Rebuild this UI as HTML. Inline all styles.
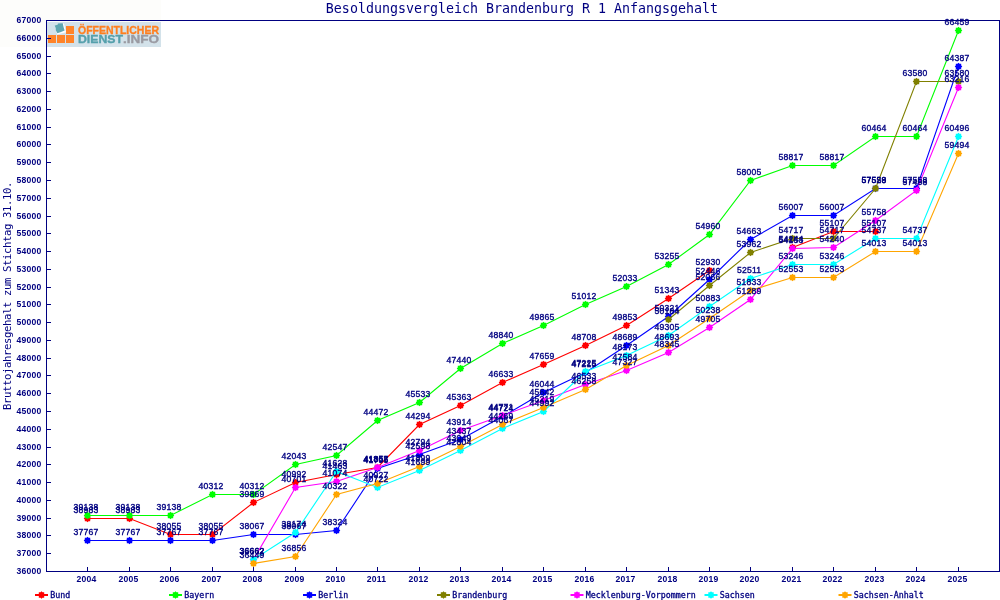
<!DOCTYPE html>
<html lang="de"><head><meta charset="utf-8"><title>Besoldungsvergleich Brandenburg R 1 Anfangsgehalt</title>
<style>
html,body{margin:0;padding:0;background:#fff;}
body{width:1000px;height:600px;overflow:hidden;}
svg{display:block;}
text{font-family:"DejaVu Sans Mono","Liberation Mono",monospace;fill:#000080;}
.t1{font-family:"Liberation Sans",sans-serif;font-size:8.6px;letter-spacing:0.22px;stroke:#000080;stroke-width:0.35px;}
.ax{font-family:"Liberation Sans",sans-serif;font-size:8.6px;font-weight:bold;letter-spacing:0.22px;}
.lg{font-size:8.3px;stroke:#000080;stroke-width:0.3px;}
.t2{font-size:10.6px;letter-spacing:-0.38px;}
.t4{font-size:13.3px;}
.logo{font-family:"Liberation Sans",sans-serif;font-weight:bold;font-size:11.5px;stroke-width:0.35px;}
</style></head><body>
<svg width="1000" height="600" viewBox="0 0 1000 600">
<rect x="0" y="0" width="1000" height="600" fill="#ffffff"/>
<rect x="0" y="0" width="161" height="47" fill="#fdfdfb"/>
<g id="logo">
<rect x="47" y="22" width="114" height="25" fill="#d3e2ea"/>
<rect x="48" y="35" width="8" height="8" fill="#ff8429"/>
<rect x="57" y="35" width="8" height="8" fill="#ff8429"/>
<rect x="66" y="35" width="8" height="8" fill="#ff8429"/>
<rect x="66" y="26" width="8" height="8" fill="#ff8429"/>
<rect x="-4.6" y="-4.6" width="9.2" height="9.2" transform="translate(60.6,28.9) rotate(-13)" fill="#ffffff"/>
<path d="M54.7 25.4 L57.6 24.7 L58.0 23.6 L62.7 23.2 L63.6 27.2 L64.6 30.6 L61.0 32.0 L57.4 33.3 L55.9 30.6 L55.7 28.2 Z" fill="#5fa7b1"/>
<text class="logo" x="78" y="34" textLength="81" lengthAdjust="spacingAndGlyphs" style="fill:#ff7f1f;stroke:#ff7f1f">ÖFFENTLICHER</text>
<text class="logo" x="78" y="43" textLength="45" lengthAdjust="spacingAndGlyphs" style="fill:#55a0ac;stroke:#55a0ac">DIENST</text>
<text class="logo" x="123" y="43" textLength="36" lengthAdjust="spacingAndGlyphs" style="fill:#9a9aa2;stroke:#9a9aa2">.INFO</text>
</g>
<text class="t4" x="522" y="13" text-anchor="middle">Besoldungsvergleich Brandenburg R 1 Anfangsgehalt</text>
<text class="t2" transform="translate(11,296) rotate(-90)" text-anchor="middle">Bruttojahresgehalt zum Stichtag 31.10.</text>
<g shape-rendering="crispEdges" stroke="#000080" stroke-width="1" fill="none">
<rect x="46.5" y="20.5" width="953" height="551"/>
<path d="M47 571.5H51M47 553.5H51M47 535.5H51M47 518.5H51M47 500.5H51M47 482.5H51M47 464.5H51M47 447.5H51M47 429.5H51M47 411.5H51M47 393.5H51M47 375.5H51M47 358.5H51M47 340.5H51M47 322.5H51M47 304.5H51M47 287.5H51M47 269.5H51M47 251.5H51M47 233.5H51M47 216.5H51M47 198.5H51M47 180.5H51M47 162.5H51M47 144.5H51M47 127.5H51M47 109.5H51M47 91.5H51M47 73.5H51M47 56.5H51M47 38.5H51M47 20.5H51M87.5 571V567M129.5 571V567M170.5 571V567M212.5 571V567M253.5 571V567M295.5 571V567M336.5 571V567M377.5 571V567M419.5 571V567M460.5 571V567M502.5 571V567M543.5 571V567M585.5 571V567M626.5 571V567M668.5 571V567M709.5 571V567M750.5 571V567M792.5 571V567M833.5 571V567M875.5 571V567M916.5 571V567M958.5 571V567"/>
</g>
<g class="ax" text-anchor="end">
<text class="ax" x="41.4" y="573.7">36000</text>
<text class="ax" x="41.4" y="555.7">37000</text>
<text class="ax" x="41.4" y="537.7">38000</text>
<text class="ax" x="41.4" y="520.7">39000</text>
<text class="ax" x="41.4" y="502.7">40000</text>
<text class="ax" x="41.4" y="484.7">41000</text>
<text class="ax" x="41.4" y="466.7">42000</text>
<text class="ax" x="41.4" y="449.7">43000</text>
<text class="ax" x="41.4" y="431.7">44000</text>
<text class="ax" x="41.4" y="413.7">45000</text>
<text class="ax" x="41.4" y="395.7">46000</text>
<text class="ax" x="41.4" y="377.7">47000</text>
<text class="ax" x="41.4" y="360.7">48000</text>
<text class="ax" x="41.4" y="342.7">49000</text>
<text class="ax" x="41.4" y="324.7">50000</text>
<text class="ax" x="41.4" y="306.7">51000</text>
<text class="ax" x="41.4" y="289.7">52000</text>
<text class="ax" x="41.4" y="271.7">53000</text>
<text class="ax" x="41.4" y="253.7">54000</text>
<text class="ax" x="41.4" y="235.7">55000</text>
<text class="ax" x="41.4" y="218.7">56000</text>
<text class="ax" x="41.4" y="200.7">57000</text>
<text class="ax" x="41.4" y="182.7">58000</text>
<text class="ax" x="41.4" y="164.7">59000</text>
<text class="ax" x="41.4" y="146.7">60000</text>
<text class="ax" x="41.4" y="129.7">61000</text>
<text class="ax" x="41.4" y="111.7">62000</text>
<text class="ax" x="41.4" y="93.7">63000</text>
<text class="ax" x="41.4" y="75.7">64000</text>
<text class="ax" x="41.4" y="58.7">65000</text>
<text class="ax" x="41.4" y="40.7">66000</text>
<text class="ax" x="41.4" y="22.7">67000</text>
</g>
<g class="ax" text-anchor="middle">
<text class="ax" x="86.5" y="582">2004</text>
<text class="ax" x="128.5" y="582">2005</text>
<text class="ax" x="169.5" y="582">2006</text>
<text class="ax" x="211.5" y="582">2007</text>
<text class="ax" x="252.5" y="582">2008</text>
<text class="ax" x="294.5" y="582">2009</text>
<text class="ax" x="335.5" y="582">2010</text>
<text class="ax" x="376.5" y="582">2011</text>
<text class="ax" x="418.5" y="582">2012</text>
<text class="ax" x="459.5" y="582">2013</text>
<text class="ax" x="501.5" y="582">2014</text>
<text class="ax" x="542.5" y="582">2015</text>
<text class="ax" x="584.5" y="582">2016</text>
<text class="ax" x="625.5" y="582">2017</text>
<text class="ax" x="667.5" y="582">2018</text>
<text class="ax" x="708.5" y="582">2019</text>
<text class="ax" x="749.5" y="582">2020</text>
<text class="ax" x="791.5" y="582">2021</text>
<text class="ax" x="832.5" y="582">2022</text>
<text class="ax" x="874.5" y="582">2023</text>
<text class="ax" x="915.5" y="582">2024</text>
<text class="ax" x="957.5" y="582">2025</text>
</g>
<g id="s-Bund">
<polyline points="87.5,518.5 129.5,518.5 170.5,534.5 212.5,534.5 253.5,502.5 295.5,482.5 336.5,474.5 377.5,467.5 419.5,424.5 460.5,405.5 502.5,382.5 543.5,364.5 585.5,345.5 626.5,325.5 668.5,298.5 709.5,270.5" fill="none" stroke="#ff0000" stroke-width="1.1"/>
<polyline points="792.5,247.5 833.5,231.5 875.5,231.5" fill="none" stroke="#ff0000" stroke-width="1.1"/>
<path d="M84.8 515.8h5.4v5.4h-5.4z M87.5 514.7l3.8 3.8l-3.8 3.8l-3.8 -3.8z" fill="#ff0000"/>
<path d="M126.8 515.8h5.4v5.4h-5.4z M129.5 514.7l3.8 3.8l-3.8 3.8l-3.8 -3.8z" fill="#ff0000"/>
<path d="M167.8 531.8h5.4v5.4h-5.4z M170.5 530.7l3.8 3.8l-3.8 3.8l-3.8 -3.8z" fill="#ff0000"/>
<path d="M209.8 531.8h5.4v5.4h-5.4z M212.5 530.7l3.8 3.8l-3.8 3.8l-3.8 -3.8z" fill="#ff0000"/>
<path d="M250.8 499.8h5.4v5.4h-5.4z M253.5 498.7l3.8 3.8l-3.8 3.8l-3.8 -3.8z" fill="#ff0000"/>
<path d="M292.8 479.8h5.4v5.4h-5.4z M295.5 478.7l3.8 3.8l-3.8 3.8l-3.8 -3.8z" fill="#ff0000"/>
<path d="M333.8 471.8h5.4v5.4h-5.4z M336.5 470.7l3.8 3.8l-3.8 3.8l-3.8 -3.8z" fill="#ff0000"/>
<path d="M374.8 464.8h5.4v5.4h-5.4z M377.5 463.7l3.8 3.8l-3.8 3.8l-3.8 -3.8z" fill="#ff0000"/>
<path d="M416.8 421.8h5.4v5.4h-5.4z M419.5 420.7l3.8 3.8l-3.8 3.8l-3.8 -3.8z" fill="#ff0000"/>
<path d="M457.8 402.8h5.4v5.4h-5.4z M460.5 401.7l3.8 3.8l-3.8 3.8l-3.8 -3.8z" fill="#ff0000"/>
<path d="M499.8 379.8h5.4v5.4h-5.4z M502.5 378.7l3.8 3.8l-3.8 3.8l-3.8 -3.8z" fill="#ff0000"/>
<path d="M540.8 361.8h5.4v5.4h-5.4z M543.5 360.7l3.8 3.8l-3.8 3.8l-3.8 -3.8z" fill="#ff0000"/>
<path d="M582.8 342.8h5.4v5.4h-5.4z M585.5 341.7l3.8 3.8l-3.8 3.8l-3.8 -3.8z" fill="#ff0000"/>
<path d="M623.8 322.8h5.4v5.4h-5.4z M626.5 321.7l3.8 3.8l-3.8 3.8l-3.8 -3.8z" fill="#ff0000"/>
<path d="M665.8 295.8h5.4v5.4h-5.4z M668.5 294.7l3.8 3.8l-3.8 3.8l-3.8 -3.8z" fill="#ff0000"/>
<path d="M706.8 267.8h5.4v5.4h-5.4z M709.5 266.7l3.8 3.8l-3.8 3.8l-3.8 -3.8z" fill="#ff0000"/>
<path d="M789.8 244.8h5.4v5.4h-5.4z M792.5 243.7l3.8 3.8l-3.8 3.8l-3.8 -3.8z" fill="#ff0000"/>
<path d="M830.8 228.8h5.4v5.4h-5.4z M833.5 227.7l3.8 3.8l-3.8 3.8l-3.8 -3.8z" fill="#ff0000"/>
<path d="M872.8 228.8h5.4v5.4h-5.4z M875.5 227.7l3.8 3.8l-3.8 3.8l-3.8 -3.8z" fill="#ff0000"/>
</g>
<g id="s-Bayern">
<polyline points="87.5,515.5 129.5,515.5 170.5,515.5 212.5,494.5 253.5,494.5 295.5,464.5 336.5,455.5 377.5,420.5 419.5,402.5 460.5,368.5 502.5,343.5 543.5,325.5 585.5,304.5 626.5,286.5 668.5,264.5 709.5,234.5 750.5,180.5 792.5,165.5 833.5,165.5 875.5,136.5 916.5,136.5 958.5,30.5" fill="none" stroke="#00ff00" stroke-width="1.1"/>
<path d="M84.8 512.8h5.4v5.4h-5.4z M87.5 511.7l3.8 3.8l-3.8 3.8l-3.8 -3.8z" fill="#00ff00"/>
<path d="M126.8 512.8h5.4v5.4h-5.4z M129.5 511.7l3.8 3.8l-3.8 3.8l-3.8 -3.8z" fill="#00ff00"/>
<path d="M167.8 512.8h5.4v5.4h-5.4z M170.5 511.7l3.8 3.8l-3.8 3.8l-3.8 -3.8z" fill="#00ff00"/>
<path d="M209.8 491.8h5.4v5.4h-5.4z M212.5 490.7l3.8 3.8l-3.8 3.8l-3.8 -3.8z" fill="#00ff00"/>
<path d="M250.8 491.8h5.4v5.4h-5.4z M253.5 490.7l3.8 3.8l-3.8 3.8l-3.8 -3.8z" fill="#00ff00"/>
<path d="M292.8 461.8h5.4v5.4h-5.4z M295.5 460.7l3.8 3.8l-3.8 3.8l-3.8 -3.8z" fill="#00ff00"/>
<path d="M333.8 452.8h5.4v5.4h-5.4z M336.5 451.7l3.8 3.8l-3.8 3.8l-3.8 -3.8z" fill="#00ff00"/>
<path d="M374.8 417.8h5.4v5.4h-5.4z M377.5 416.7l3.8 3.8l-3.8 3.8l-3.8 -3.8z" fill="#00ff00"/>
<path d="M416.8 399.8h5.4v5.4h-5.4z M419.5 398.7l3.8 3.8l-3.8 3.8l-3.8 -3.8z" fill="#00ff00"/>
<path d="M457.8 365.8h5.4v5.4h-5.4z M460.5 364.7l3.8 3.8l-3.8 3.8l-3.8 -3.8z" fill="#00ff00"/>
<path d="M499.8 340.8h5.4v5.4h-5.4z M502.5 339.7l3.8 3.8l-3.8 3.8l-3.8 -3.8z" fill="#00ff00"/>
<path d="M540.8 322.8h5.4v5.4h-5.4z M543.5 321.7l3.8 3.8l-3.8 3.8l-3.8 -3.8z" fill="#00ff00"/>
<path d="M582.8 301.8h5.4v5.4h-5.4z M585.5 300.7l3.8 3.8l-3.8 3.8l-3.8 -3.8z" fill="#00ff00"/>
<path d="M623.8 283.8h5.4v5.4h-5.4z M626.5 282.7l3.8 3.8l-3.8 3.8l-3.8 -3.8z" fill="#00ff00"/>
<path d="M665.8 261.8h5.4v5.4h-5.4z M668.5 260.7l3.8 3.8l-3.8 3.8l-3.8 -3.8z" fill="#00ff00"/>
<path d="M706.8 231.8h5.4v5.4h-5.4z M709.5 230.7l3.8 3.8l-3.8 3.8l-3.8 -3.8z" fill="#00ff00"/>
<path d="M747.8 177.8h5.4v5.4h-5.4z M750.5 176.7l3.8 3.8l-3.8 3.8l-3.8 -3.8z" fill="#00ff00"/>
<path d="M789.8 162.8h5.4v5.4h-5.4z M792.5 161.7l3.8 3.8l-3.8 3.8l-3.8 -3.8z" fill="#00ff00"/>
<path d="M830.8 162.8h5.4v5.4h-5.4z M833.5 161.7l3.8 3.8l-3.8 3.8l-3.8 -3.8z" fill="#00ff00"/>
<path d="M872.8 133.8h5.4v5.4h-5.4z M875.5 132.7l3.8 3.8l-3.8 3.8l-3.8 -3.8z" fill="#00ff00"/>
<path d="M913.8 133.8h5.4v5.4h-5.4z M916.5 132.7l3.8 3.8l-3.8 3.8l-3.8 -3.8z" fill="#00ff00"/>
<path d="M955.8 27.8h5.4v5.4h-5.4z M958.5 26.7l3.8 3.8l-3.8 3.8l-3.8 -3.8z" fill="#00ff00"/>
</g>
<g id="s-Berlin">
<polyline points="87.5,540.5 129.5,540.5 170.5,540.5 212.5,540.5 253.5,534.5 295.5,534.5 336.5,530.5 377.5,468.5 419.5,454.5 460.5,439.5 502.5,416.5 543.5,392.5 585.5,372.5 626.5,345.5 668.5,316.5 709.5,279.5 750.5,239.5 792.5,215.5 833.5,215.5 875.5,188.5 916.5,188.5 958.5,66.5" fill="none" stroke="#0000ff" stroke-width="1.1"/>
<path d="M84.8 537.8h5.4v5.4h-5.4z M87.5 536.7l3.8 3.8l-3.8 3.8l-3.8 -3.8z" fill="#0000ff"/>
<path d="M126.8 537.8h5.4v5.4h-5.4z M129.5 536.7l3.8 3.8l-3.8 3.8l-3.8 -3.8z" fill="#0000ff"/>
<path d="M167.8 537.8h5.4v5.4h-5.4z M170.5 536.7l3.8 3.8l-3.8 3.8l-3.8 -3.8z" fill="#0000ff"/>
<path d="M209.8 537.8h5.4v5.4h-5.4z M212.5 536.7l3.8 3.8l-3.8 3.8l-3.8 -3.8z" fill="#0000ff"/>
<path d="M250.8 531.8h5.4v5.4h-5.4z M253.5 530.7l3.8 3.8l-3.8 3.8l-3.8 -3.8z" fill="#0000ff"/>
<path d="M292.8 531.8h5.4v5.4h-5.4z M295.5 530.7l3.8 3.8l-3.8 3.8l-3.8 -3.8z" fill="#0000ff"/>
<path d="M333.8 527.8h5.4v5.4h-5.4z M336.5 526.7l3.8 3.8l-3.8 3.8l-3.8 -3.8z" fill="#0000ff"/>
<path d="M374.8 465.8h5.4v5.4h-5.4z M377.5 464.7l3.8 3.8l-3.8 3.8l-3.8 -3.8z" fill="#0000ff"/>
<path d="M416.8 451.8h5.4v5.4h-5.4z M419.5 450.7l3.8 3.8l-3.8 3.8l-3.8 -3.8z" fill="#0000ff"/>
<path d="M457.8 436.8h5.4v5.4h-5.4z M460.5 435.7l3.8 3.8l-3.8 3.8l-3.8 -3.8z" fill="#0000ff"/>
<path d="M499.8 413.8h5.4v5.4h-5.4z M502.5 412.7l3.8 3.8l-3.8 3.8l-3.8 -3.8z" fill="#0000ff"/>
<path d="M540.8 389.8h5.4v5.4h-5.4z M543.5 388.7l3.8 3.8l-3.8 3.8l-3.8 -3.8z" fill="#0000ff"/>
<path d="M582.8 369.8h5.4v5.4h-5.4z M585.5 368.7l3.8 3.8l-3.8 3.8l-3.8 -3.8z" fill="#0000ff"/>
<path d="M623.8 342.8h5.4v5.4h-5.4z M626.5 341.7l3.8 3.8l-3.8 3.8l-3.8 -3.8z" fill="#0000ff"/>
<path d="M665.8 313.8h5.4v5.4h-5.4z M668.5 312.7l3.8 3.8l-3.8 3.8l-3.8 -3.8z" fill="#0000ff"/>
<path d="M706.8 276.8h5.4v5.4h-5.4z M709.5 275.7l3.8 3.8l-3.8 3.8l-3.8 -3.8z" fill="#0000ff"/>
<path d="M747.8 236.8h5.4v5.4h-5.4z M750.5 235.7l3.8 3.8l-3.8 3.8l-3.8 -3.8z" fill="#0000ff"/>
<path d="M789.8 212.8h5.4v5.4h-5.4z M792.5 211.7l3.8 3.8l-3.8 3.8l-3.8 -3.8z" fill="#0000ff"/>
<path d="M830.8 212.8h5.4v5.4h-5.4z M833.5 211.7l3.8 3.8l-3.8 3.8l-3.8 -3.8z" fill="#0000ff"/>
<path d="M872.8 185.8h5.4v5.4h-5.4z M875.5 184.7l3.8 3.8l-3.8 3.8l-3.8 -3.8z" fill="#0000ff"/>
<path d="M913.8 185.8h5.4v5.4h-5.4z M916.5 184.7l3.8 3.8l-3.8 3.8l-3.8 -3.8z" fill="#0000ff"/>
<path d="M955.8 63.8h5.4v5.4h-5.4z M958.5 62.7l3.8 3.8l-3.8 3.8l-3.8 -3.8z" fill="#0000ff"/>
</g>
<g id="s-Brandenburg">
<polyline points="668.5,319.5 709.5,285.5 750.5,252.5 792.5,238.5 833.5,238.5 875.5,188.5 916.5,81.5 958.5,81.5" fill="none" stroke="#808000" stroke-width="1.1"/>
<path d="M665.8 316.8h5.4v5.4h-5.4z M668.5 315.7l3.8 3.8l-3.8 3.8l-3.8 -3.8z" fill="#808000"/>
<path d="M706.8 282.8h5.4v5.4h-5.4z M709.5 281.7l3.8 3.8l-3.8 3.8l-3.8 -3.8z" fill="#808000"/>
<path d="M747.8 249.8h5.4v5.4h-5.4z M750.5 248.7l3.8 3.8l-3.8 3.8l-3.8 -3.8z" fill="#808000"/>
<path d="M789.8 235.8h5.4v5.4h-5.4z M792.5 234.7l3.8 3.8l-3.8 3.8l-3.8 -3.8z" fill="#808000"/>
<path d="M830.8 235.8h5.4v5.4h-5.4z M833.5 234.7l3.8 3.8l-3.8 3.8l-3.8 -3.8z" fill="#808000"/>
<path d="M872.8 185.8h5.4v5.4h-5.4z M875.5 184.7l3.8 3.8l-3.8 3.8l-3.8 -3.8z" fill="#808000"/>
<path d="M913.8 78.8h5.4v5.4h-5.4z M916.5 77.7l3.8 3.8l-3.8 3.8l-3.8 -3.8z" fill="#808000"/>
<path d="M955.8 78.8h5.4v5.4h-5.4z M958.5 77.7l3.8 3.8l-3.8 3.8l-3.8 -3.8z" fill="#808000"/>
</g>
<g id="s-Mecklenburg-Vorpommern">
<polyline points="253.5,559.5 295.5,487.5 336.5,481.5 377.5,467.5 419.5,450.5 460.5,430.5 502.5,415.5 543.5,400.5 585.5,384.5 626.5,370.5 668.5,352.5 709.5,327.5 750.5,299.5 792.5,248.5 833.5,247.5 875.5,220.5 916.5,190.5 958.5,87.5" fill="none" stroke="#ff00ff" stroke-width="1.1"/>
<path d="M250.8 556.8h5.4v5.4h-5.4z M253.5 555.7l3.8 3.8l-3.8 3.8l-3.8 -3.8z" fill="#ff00ff"/>
<path d="M292.8 484.8h5.4v5.4h-5.4z M295.5 483.7l3.8 3.8l-3.8 3.8l-3.8 -3.8z" fill="#ff00ff"/>
<path d="M333.8 478.8h5.4v5.4h-5.4z M336.5 477.7l3.8 3.8l-3.8 3.8l-3.8 -3.8z" fill="#ff00ff"/>
<path d="M374.8 464.8h5.4v5.4h-5.4z M377.5 463.7l3.8 3.8l-3.8 3.8l-3.8 -3.8z" fill="#ff00ff"/>
<path d="M416.8 447.8h5.4v5.4h-5.4z M419.5 446.7l3.8 3.8l-3.8 3.8l-3.8 -3.8z" fill="#ff00ff"/>
<path d="M457.8 427.8h5.4v5.4h-5.4z M460.5 426.7l3.8 3.8l-3.8 3.8l-3.8 -3.8z" fill="#ff00ff"/>
<path d="M499.8 412.8h5.4v5.4h-5.4z M502.5 411.7l3.8 3.8l-3.8 3.8l-3.8 -3.8z" fill="#ff00ff"/>
<path d="M540.8 397.8h5.4v5.4h-5.4z M543.5 396.7l3.8 3.8l-3.8 3.8l-3.8 -3.8z" fill="#ff00ff"/>
<path d="M582.8 381.8h5.4v5.4h-5.4z M585.5 380.7l3.8 3.8l-3.8 3.8l-3.8 -3.8z" fill="#ff00ff"/>
<path d="M623.8 367.8h5.4v5.4h-5.4z M626.5 366.7l3.8 3.8l-3.8 3.8l-3.8 -3.8z" fill="#ff00ff"/>
<path d="M665.8 349.8h5.4v5.4h-5.4z M668.5 348.7l3.8 3.8l-3.8 3.8l-3.8 -3.8z" fill="#ff00ff"/>
<path d="M706.8 324.8h5.4v5.4h-5.4z M709.5 323.7l3.8 3.8l-3.8 3.8l-3.8 -3.8z" fill="#ff00ff"/>
<path d="M747.8 296.8h5.4v5.4h-5.4z M750.5 295.7l3.8 3.8l-3.8 3.8l-3.8 -3.8z" fill="#ff00ff"/>
<path d="M789.8 245.8h5.4v5.4h-5.4z M792.5 244.7l3.8 3.8l-3.8 3.8l-3.8 -3.8z" fill="#ff00ff"/>
<path d="M830.8 244.8h5.4v5.4h-5.4z M833.5 243.7l3.8 3.8l-3.8 3.8l-3.8 -3.8z" fill="#ff00ff"/>
<path d="M872.8 217.8h5.4v5.4h-5.4z M875.5 216.7l3.8 3.8l-3.8 3.8l-3.8 -3.8z" fill="#ff00ff"/>
<path d="M913.8 187.8h5.4v5.4h-5.4z M916.5 186.7l3.8 3.8l-3.8 3.8l-3.8 -3.8z" fill="#ff00ff"/>
<path d="M955.8 84.8h5.4v5.4h-5.4z M958.5 83.7l3.8 3.8l-3.8 3.8l-3.8 -3.8z" fill="#ff00ff"/>
</g>
<g id="s-Sachsen">
<polyline points="253.5,559.5 295.5,532.5 336.5,471.5 377.5,487.5 419.5,470.5 460.5,450.5 502.5,428.5 543.5,411.5 585.5,371.5 626.5,355.5 668.5,335.5 709.5,306.5 750.5,278.5 792.5,264.5 833.5,264.5 875.5,238.5 916.5,238.5 958.5,136.5" fill="none" stroke="#00ffff" stroke-width="1.1"/>
<path d="M250.8 556.8h5.4v5.4h-5.4z M253.5 555.7l3.8 3.8l-3.8 3.8l-3.8 -3.8z" fill="#00ffff"/>
<path d="M292.8 529.8h5.4v5.4h-5.4z M295.5 528.7l3.8 3.8l-3.8 3.8l-3.8 -3.8z" fill="#00ffff"/>
<path d="M333.8 468.8h5.4v5.4h-5.4z M336.5 467.7l3.8 3.8l-3.8 3.8l-3.8 -3.8z" fill="#00ffff"/>
<path d="M374.8 484.8h5.4v5.4h-5.4z M377.5 483.7l3.8 3.8l-3.8 3.8l-3.8 -3.8z" fill="#00ffff"/>
<path d="M416.8 467.8h5.4v5.4h-5.4z M419.5 466.7l3.8 3.8l-3.8 3.8l-3.8 -3.8z" fill="#00ffff"/>
<path d="M457.8 447.8h5.4v5.4h-5.4z M460.5 446.7l3.8 3.8l-3.8 3.8l-3.8 -3.8z" fill="#00ffff"/>
<path d="M499.8 425.8h5.4v5.4h-5.4z M502.5 424.7l3.8 3.8l-3.8 3.8l-3.8 -3.8z" fill="#00ffff"/>
<path d="M540.8 408.8h5.4v5.4h-5.4z M543.5 407.7l3.8 3.8l-3.8 3.8l-3.8 -3.8z" fill="#00ffff"/>
<path d="M582.8 368.8h5.4v5.4h-5.4z M585.5 367.7l3.8 3.8l-3.8 3.8l-3.8 -3.8z" fill="#00ffff"/>
<path d="M623.8 352.8h5.4v5.4h-5.4z M626.5 351.7l3.8 3.8l-3.8 3.8l-3.8 -3.8z" fill="#00ffff"/>
<path d="M665.8 332.8h5.4v5.4h-5.4z M668.5 331.7l3.8 3.8l-3.8 3.8l-3.8 -3.8z" fill="#00ffff"/>
<path d="M706.8 303.8h5.4v5.4h-5.4z M709.5 302.7l3.8 3.8l-3.8 3.8l-3.8 -3.8z" fill="#00ffff"/>
<path d="M747.8 275.8h5.4v5.4h-5.4z M750.5 274.7l3.8 3.8l-3.8 3.8l-3.8 -3.8z" fill="#00ffff"/>
<path d="M789.8 261.8h5.4v5.4h-5.4z M792.5 260.7l3.8 3.8l-3.8 3.8l-3.8 -3.8z" fill="#00ffff"/>
<path d="M830.8 261.8h5.4v5.4h-5.4z M833.5 260.7l3.8 3.8l-3.8 3.8l-3.8 -3.8z" fill="#00ffff"/>
<path d="M872.8 235.8h5.4v5.4h-5.4z M875.5 234.7l3.8 3.8l-3.8 3.8l-3.8 -3.8z" fill="#00ffff"/>
<path d="M913.8 235.8h5.4v5.4h-5.4z M916.5 234.7l3.8 3.8l-3.8 3.8l-3.8 -3.8z" fill="#00ffff"/>
<path d="M955.8 133.8h5.4v5.4h-5.4z M958.5 132.7l3.8 3.8l-3.8 3.8l-3.8 -3.8z" fill="#00ffff"/>
</g>
<g id="s-Sachsen-Anhalt">
<polyline points="253.5,563.5 295.5,556.5 336.5,494.5 377.5,483.5 419.5,466.5 460.5,446.5 502.5,424.5 543.5,407.5 585.5,389.5 626.5,365.5 668.5,345.5 709.5,318.5 750.5,290.5 792.5,277.5 833.5,277.5 875.5,251.5 916.5,251.5 958.5,153.5" fill="none" stroke="#ffa500" stroke-width="1.1"/>
<path d="M250.8 560.8h5.4v5.4h-5.4z M253.5 559.7l3.8 3.8l-3.8 3.8l-3.8 -3.8z" fill="#ffa500"/>
<path d="M292.8 553.8h5.4v5.4h-5.4z M295.5 552.7l3.8 3.8l-3.8 3.8l-3.8 -3.8z" fill="#ffa500"/>
<path d="M333.8 491.8h5.4v5.4h-5.4z M336.5 490.7l3.8 3.8l-3.8 3.8l-3.8 -3.8z" fill="#ffa500"/>
<path d="M374.8 480.8h5.4v5.4h-5.4z M377.5 479.7l3.8 3.8l-3.8 3.8l-3.8 -3.8z" fill="#ffa500"/>
<path d="M416.8 463.8h5.4v5.4h-5.4z M419.5 462.7l3.8 3.8l-3.8 3.8l-3.8 -3.8z" fill="#ffa500"/>
<path d="M457.8 443.8h5.4v5.4h-5.4z M460.5 442.7l3.8 3.8l-3.8 3.8l-3.8 -3.8z" fill="#ffa500"/>
<path d="M499.8 421.8h5.4v5.4h-5.4z M502.5 420.7l3.8 3.8l-3.8 3.8l-3.8 -3.8z" fill="#ffa500"/>
<path d="M540.8 404.8h5.4v5.4h-5.4z M543.5 403.7l3.8 3.8l-3.8 3.8l-3.8 -3.8z" fill="#ffa500"/>
<path d="M582.8 386.8h5.4v5.4h-5.4z M585.5 385.7l3.8 3.8l-3.8 3.8l-3.8 -3.8z" fill="#ffa500"/>
<path d="M623.8 362.8h5.4v5.4h-5.4z M626.5 361.7l3.8 3.8l-3.8 3.8l-3.8 -3.8z" fill="#ffa500"/>
<path d="M665.8 342.8h5.4v5.4h-5.4z M668.5 341.7l3.8 3.8l-3.8 3.8l-3.8 -3.8z" fill="#ffa500"/>
<path d="M706.8 315.8h5.4v5.4h-5.4z M709.5 314.7l3.8 3.8l-3.8 3.8l-3.8 -3.8z" fill="#ffa500"/>
<path d="M747.8 287.8h5.4v5.4h-5.4z M750.5 286.7l3.8 3.8l-3.8 3.8l-3.8 -3.8z" fill="#ffa500"/>
<path d="M789.8 274.8h5.4v5.4h-5.4z M792.5 273.7l3.8 3.8l-3.8 3.8l-3.8 -3.8z" fill="#ffa500"/>
<path d="M830.8 274.8h5.4v5.4h-5.4z M833.5 273.7l3.8 3.8l-3.8 3.8l-3.8 -3.8z" fill="#ffa500"/>
<path d="M872.8 248.8h5.4v5.4h-5.4z M875.5 247.7l3.8 3.8l-3.8 3.8l-3.8 -3.8z" fill="#ffa500"/>
<path d="M913.8 248.8h5.4v5.4h-5.4z M916.5 247.7l3.8 3.8l-3.8 3.8l-3.8 -3.8z" fill="#ffa500"/>
<path d="M955.8 150.8h5.4v5.4h-5.4z M958.5 149.7l3.8 3.8l-3.8 3.8l-3.8 -3.8z" fill="#ffa500"/>
</g>
<g class="t1" text-anchor="middle">
<text class="t1" x="86.1" y="513.0">38983</text>
<text class="t1" x="128.1" y="513.0">38983</text>
<text class="t1" x="169.1" y="529.0">38055</text>
<text class="t1" x="211.1" y="529.0">38055</text>
<text class="t1" x="252.1" y="497.0">39869</text>
<text class="t1" x="294.1" y="477.0">40992</text>
<text class="t1" x="335.1" y="469.0">41463</text>
<text class="t1" x="376.1" y="462.0">41857</text>
<text class="t1" x="418.1" y="419.0">44294</text>
<text class="t1" x="459.1" y="400.0">45363</text>
<text class="t1" x="501.1" y="377.0">46633</text>
<text class="t1" x="542.1" y="359.0">47659</text>
<text class="t1" x="584.1" y="340.0">48708</text>
<text class="t1" x="625.1" y="320.0">49853</text>
<text class="t1" x="667.1" y="293.0">51343</text>
<text class="t1" x="708.1" y="265.0">52930</text>
<text class="t1" x="791.1" y="242.0">54244</text>
<text class="t1" x="832.1" y="226.0">55107</text>
<text class="t1" x="874.1" y="226.0">55107</text>
</g>
<g class="t1" text-anchor="middle">
<text class="t1" x="86.1" y="510.0">39138</text>
<text class="t1" x="128.1" y="510.0">39138</text>
<text class="t1" x="169.1" y="510.0">39138</text>
<text class="t1" x="211.1" y="489.0">40312</text>
<text class="t1" x="252.1" y="489.0">40312</text>
<text class="t1" x="294.1" y="459.0">42043</text>
<text class="t1" x="335.1" y="450.0">42547</text>
<text class="t1" x="376.1" y="415.0">44472</text>
<text class="t1" x="418.1" y="397.0">45533</text>
<text class="t1" x="459.1" y="363.0">47440</text>
<text class="t1" x="501.1" y="338.0">48840</text>
<text class="t1" x="542.1" y="320.0">49865</text>
<text class="t1" x="584.1" y="299.0">51012</text>
<text class="t1" x="625.1" y="281.0">52033</text>
<text class="t1" x="667.1" y="259.0">53255</text>
<text class="t1" x="708.1" y="229.0">54960</text>
<text class="t1" x="749.1" y="175.0">58005</text>
<text class="t1" x="791.1" y="160.0">58817</text>
<text class="t1" x="832.1" y="160.0">58817</text>
<text class="t1" x="874.1" y="131.0">60464</text>
<text class="t1" x="915.1" y="131.0">60464</text>
<text class="t1" x="957.1" y="25.0">66459</text>
</g>
<g class="t1" text-anchor="middle">
<text class="t1" x="86.1" y="535.0">37767</text>
<text class="t1" x="128.1" y="535.0">37767</text>
<text class="t1" x="169.1" y="535.0">37767</text>
<text class="t1" x="211.1" y="535.0">37767</text>
<text class="t1" x="252.1" y="529.0">38067</text>
<text class="t1" x="294.1" y="529.0">38067</text>
<text class="t1" x="335.1" y="525.0">38324</text>
<text class="t1" x="376.1" y="463.0">41795</text>
<text class="t1" x="418.1" y="449.0">42598</text>
<text class="t1" x="459.1" y="434.0">43437</text>
<text class="t1" x="501.1" y="411.0">44724</text>
<text class="t1" x="542.1" y="387.0">46044</text>
<text class="t1" x="584.1" y="367.0">47215</text>
<text class="t1" x="625.1" y="340.0">48689</text>
<text class="t1" x="667.1" y="311.0">50321</text>
<text class="t1" x="708.1" y="274.0">52446</text>
<text class="t1" x="749.1" y="234.0">54663</text>
<text class="t1" x="791.1" y="210.0">56007</text>
<text class="t1" x="832.1" y="210.0">56007</text>
<text class="t1" x="874.1" y="183.0">57558</text>
<text class="t1" x="915.1" y="183.0">57558</text>
<text class="t1" x="957.1" y="61.0">64387</text>
</g>
<g class="t1" text-anchor="middle">
<text class="t1" x="667.1" y="314.0">50184</text>
<text class="t1" x="708.1" y="280.0">52066</text>
<text class="t1" x="749.1" y="247.0">53962</text>
<text class="t1" x="791.1" y="233.0">54717</text>
<text class="t1" x="832.1" y="233.0">54717</text>
<text class="t1" x="874.1" y="183.0">57529</text>
<text class="t1" x="915.1" y="76.0">63580</text>
<text class="t1" x="957.1" y="76.0">63580</text>
</g>
<g class="t1" text-anchor="middle">
<text class="t1" x="252.1" y="554.0">36662</text>
<text class="t1" x="294.1" y="482.0">40701</text>
<text class="t1" x="335.1" y="476.0">41074</text>
<text class="t1" x="376.1" y="462.0">41853</text>
<text class="t1" x="418.1" y="445.0">42794</text>
<text class="t1" x="459.1" y="425.0">43914</text>
<text class="t1" x="501.1" y="410.0">44771</text>
<text class="t1" x="542.1" y="395.0">45642</text>
<text class="t1" x="584.1" y="379.0">46533</text>
<text class="t1" x="625.1" y="365.0">47327</text>
<text class="t1" x="667.1" y="347.0">48345</text>
<text class="t1" x="708.1" y="322.0">49705</text>
<text class="t1" x="749.1" y="294.0">51289</text>
<text class="t1" x="791.1" y="243.0">54153</text>
<text class="t1" x="832.1" y="242.0">54240</text>
<text class="t1" x="874.1" y="215.0">55758</text>
<text class="t1" x="915.1" y="185.0">57458</text>
<text class="t1" x="957.1" y="82.0">63216</text>
</g>
<g class="t1" text-anchor="middle">
<text class="t1" x="252.1" y="554.0">36662</text>
<text class="t1" x="294.1" y="527.0">38174</text>
<text class="t1" x="335.1" y="466.0">41628</text>
<text class="t1" x="376.1" y="482.0">40722</text>
<text class="t1" x="418.1" y="465.0">41699</text>
<text class="t1" x="459.1" y="445.0">42804</text>
<text class="t1" x="501.1" y="423.0">44067</text>
<text class="t1" x="542.1" y="406.0">44992</text>
<text class="t1" x="584.1" y="366.0">47225</text>
<text class="t1" x="625.1" y="350.0">48173</text>
<text class="t1" x="667.1" y="330.0">49305</text>
<text class="t1" x="708.1" y="301.0">50883</text>
<text class="t1" x="749.1" y="273.0">52511</text>
<text class="t1" x="791.1" y="259.0">53246</text>
<text class="t1" x="832.1" y="259.0">53246</text>
<text class="t1" x="874.1" y="233.0">54737</text>
<text class="t1" x="915.1" y="233.0">54737</text>
<text class="t1" x="957.1" y="131.0">60496</text>
</g>
<g class="t1" text-anchor="middle">
<text class="t1" x="252.1" y="558.0">36449</text>
<text class="t1" x="294.1" y="551.0">36856</text>
<text class="t1" x="335.1" y="489.0">40322</text>
<text class="t1" x="376.1" y="478.0">40927</text>
<text class="t1" x="418.1" y="461.0">41899</text>
<text class="t1" x="459.1" y="441.0">43049</text>
<text class="t1" x="501.1" y="419.0">44269</text>
<text class="t1" x="542.1" y="402.0">45219</text>
<text class="t1" x="584.1" y="384.0">46258</text>
<text class="t1" x="625.1" y="360.0">47584</text>
<text class="t1" x="667.1" y="340.0">48693</text>
<text class="t1" x="708.1" y="313.0">50238</text>
<text class="t1" x="749.1" y="285.0">51833</text>
<text class="t1" x="791.1" y="272.0">52553</text>
<text class="t1" x="832.1" y="272.0">52553</text>
<text class="t1" x="874.1" y="246.0">54013</text>
<text class="t1" x="915.1" y="246.0">54013</text>
<text class="t1" x="957.1" y="148.0">59494</text>
</g>
<g id="legend">
<rect x="35" y="594" width="13" height="2" fill="#ff0000"/>
<path d="M38.8 592.3h5.4v5.4h-5.4z M41.5 591.2l3.8 3.8l-3.8 3.8l-3.8 -3.8z" fill="#ff0000"/>
<text class="lg" x="50.3" y="598">Bund</text>
<rect x="169" y="594" width="13" height="2" fill="#00ff00"/>
<path d="M172.8 592.3h5.4v5.4h-5.4z M175.5 591.2l3.8 3.8l-3.8 3.8l-3.8 -3.8z" fill="#00ff00"/>
<text class="lg" x="184.3" y="598">Bayern</text>
<rect x="303" y="594" width="13" height="2" fill="#0000ff"/>
<path d="M306.8 592.3h5.4v5.4h-5.4z M309.5 591.2l3.8 3.8l-3.8 3.8l-3.8 -3.8z" fill="#0000ff"/>
<text class="lg" x="318.3" y="598">Berlin</text>
<rect x="437" y="594" width="13" height="2" fill="#808000"/>
<path d="M440.8 592.3h5.4v5.4h-5.4z M443.5 591.2l3.8 3.8l-3.8 3.8l-3.8 -3.8z" fill="#808000"/>
<text class="lg" x="452.3" y="598">Brandenburg</text>
<rect x="570.5" y="594" width="13" height="2" fill="#ff00ff"/>
<path d="M574.3 592.3h5.4v5.4h-5.4z M577.0 591.2l3.8 3.8l-3.8 3.8l-3.8 -3.8z" fill="#ff00ff"/>
<text class="lg" x="585.8" y="598">Mecklenburg-Vorpommern</text>
<rect x="704.5" y="594" width="13" height="2" fill="#00ffff"/>
<path d="M708.3 592.3h5.4v5.4h-5.4z M711.0 591.2l3.8 3.8l-3.8 3.8l-3.8 -3.8z" fill="#00ffff"/>
<text class="lg" x="719.8" y="598">Sachsen</text>
<rect x="838.5" y="594" width="13" height="2" fill="#ffa500"/>
<path d="M842.3 592.3h5.4v5.4h-5.4z M845.0 591.2l3.8 3.8l-3.8 3.8l-3.8 -3.8z" fill="#ffa500"/>
<text class="lg" x="853.8" y="598">Sachsen-Anhalt</text>
</g>
</svg></body></html>
